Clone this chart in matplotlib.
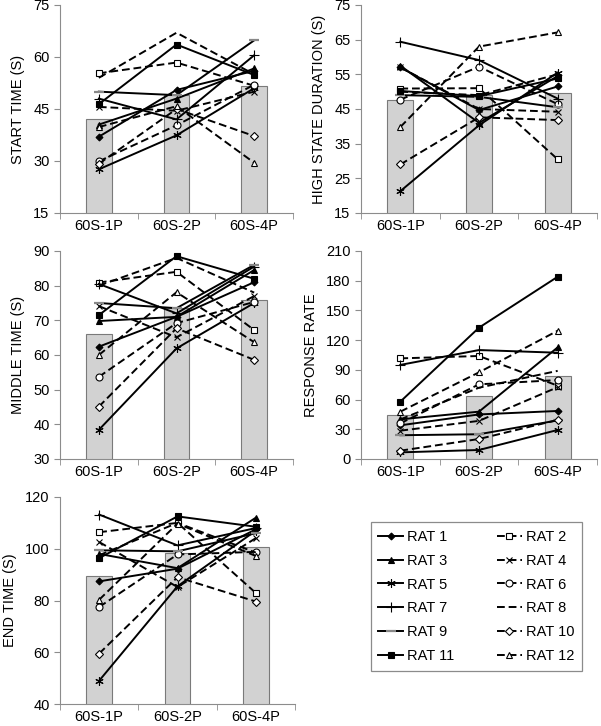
import matplotlib
matplotlib.use("Agg")
import matplotlib.pyplot as plt

plt.rcParams["font.family"] = ["Liberation Sans", "DejaVu Sans"]
plt.rcParams["font.size"] = 10

conditions = ["60S-1P", "60S-2P", "60S-4P"]
rats = ["RAT %d" % i for i in range(1, 13)]

# group means (bars)
start_mean = [42.0, 49.0, 51.5]
high_mean = [47.5, 49.0, 49.5]
middle_mean = [66.0, 73.5, 76.0]
rate_mean = [44.5, 64.0, 84.0]
end_mean = [89.5, 98.5, 100.5]

# individual rats, one row per rat: [1P, 2P, 4P]
start_time = [
    [37.0, 50.5, 56.0], [55.3, 58.4, 51.7], [40.5, 48.0, 56.7], [45.6, 44.5, 50.0],
    [27.6, 37.4, 51.0], [29.9, 40.3, 52.0], [48.0, 42.0, 60.5], [54.0, 67.0, 55.0],
    [50.0, 49.0, 64.8], [29.2, 45.0, 37.2], [46.4, 63.6, 54.8], [39.8, 45.8, 29.5],
]
high_state = [
    [57.0, 44.7, 51.5], [50.9, 51.0, 30.5], [57.5, 41.0, 54.5], [57.0, 45.0, 44.2],
    [21.3, 40.3, 55.5], [47.7, 57.2, 46.4], [64.4, 59.1, 48.0], [50.0, 49.0, 55.0],
    [49.0, 48.5, 45.5], [29.0, 42.6, 41.8], [50.2, 48.7, 53.8], [39.8, 63.0, 67.1],
]
middle_time = [
    [62.4, 71.0, 81.0], [80.9, 84.0, 67.2], [69.8, 71.0, 84.5], [74.1, 65.1, 77.0],
    [38.4, 61.9, 75.0], [53.7, 69.2, 75.3], [80.5, 72.0, 85.5], [80.0, 88.0, 78.0],
    [75.0, 73.5, 86.0], [45.1, 67.7, 58.6], [71.5, 88.5, 82.0], [60.0, 78.1, 63.7],
]
response_rate = [
    [34.0, 45.0, 48.5], [101.6, 104.0, 74.0], [40.0, 47.8, 112.7], [28.6, 38.5, 72.5],
    [6.7, 9.1, 29.3], [36.0, 75.4, 79.7], [95.0, 110.0, 107.3], [40.0, 72.0, 89.0],
    [24.0, 25.0, 39.0], [8.4, 20.2, 39.4], [57.9, 132.6, 184.0], [47.8, 87.5, 129.5],
]
end_time = [
    [87.4, 92.3, 107.5], [106.4, 110.0, 82.9], [98.0, 92.5, 112.0], [102.6, 85.2, 104.1],
    [49.0, 85.5, 107.0], [77.5, 97.8, 98.8], [113.2, 101.3, 108.0], [97.5, 110.0, 98.5],
    [99.4, 99.0, 106.0], [59.5, 89.0, 79.6], [96.4, 112.5, 108.5], [80.3, 109.7, 97.2],
]

# marker, face colour, marker size, dashed
styles = [
    ("D", "black", 3.5, False),
    ("s", "white", 5, True),
    ("^", "black", 5, False),
    ("x", "black", 5, True),
    ((6, 2, 0), "black", 6, False),
    ("o", "white", 5, True),
    ("+", "black", 7, False),
    ("", "black", 5, True),
    ("_", "#888888", 7, False),
    ("D", "white", 4, True),
    ("s", "black", 5, False),
    ("^", "white", 5, True),
]

panels = [
    ("START TIME (S)", start_mean, start_time, (15, 75), range(15, 76, 15),
     [60, 5, 293, 213]),
    ("HIGH STATE DURATION (S)", high_mean, high_state, (15, 75), range(15, 76, 10),
     [361, 5, 597, 213]),
    ("MIDDLE TIME (S)", middle_mean, middle_time, (30, 90), range(30, 91, 10),
     [60, 251, 293, 459]),
    ("RESPONSE RATE", rate_mean, response_rate, (0, 210), range(0, 211, 30),
     [361, 251, 597, 459]),
    ("END TIME (S)", end_mean, end_time, (40, 120), range(40, 121, 20),
     [60, 497, 295, 704]),
]

W, H = 601, 726
fig = plt.figure(figsize=(W / 100, H / 100), dpi=100)
x = list(range(len(conditions)))
spine_col = "#8c8c8c"


def draw_rat(ax, vals, style, label=None):
    marker, face, ms, dashed = style
    is_bar = marker == "_"
    line, = ax.plot(x, vals, color="black", lw=1.4,
                    linestyle=(0, (4, 2)) if dashed else "-",
                    marker=marker if marker else None, ms=ms,
                    markerfacecolor=face, markeredgecolor=face if is_bar else "black",
                    markeredgewidth=1.6 if is_bar else 0.8, label=label, zorder=3)
    return line


handles = []
for title, means, data, ylim, yticks, box in panels:
    l, t, r, b = box
    ax = fig.add_axes([l / W, 1 - b / H, (r - l) / W, (b - t) / H])
    ax.bar(x, means, width=0.33, color="#d2d2d2", edgecolor="#7a7a7a", lw=0.8, zorder=2)
    for i, vals in enumerate(data):
        line = draw_rat(ax, vals, styles[i], rats[i])
        if title == "START TIME (S)":
            handles.append(line)
    ax.set_xlim(-0.5, 2.5)
    ax.set_ylim(*ylim)
    ax.set_yticks(list(yticks))
    ax.set_xticks(x)
    ax.set_xticklabels(conditions)
    ax.set_xticks([-0.5, 0.5, 1.5, 2.5], minor=True)
    ax.tick_params(axis="x", which="major", length=0, pad=4, labelsize=10.5)
    ax.tick_params(axis="x", which="minor", length=4, color=spine_col)
    ax.tick_params(axis="y", length=4, color=spine_col, labelsize=10.5)
    for s in ("top", "right"):
        ax.spines[s].set_visible(False)
    for s in ("left", "bottom"):
        ax.spines[s].set_color(spine_col)
        ax.spines[s].set_linewidth(0.8)
    ax.set_ylabel(title, fontsize=10.5, labelpad=6)

# legend reads row by row: odd rats in the left column, even rats in the right
order = list(range(0, 12, 2)) + list(range(1, 12, 2))
lax = fig.add_axes([371 / W, 1 - 667 / H, 211 / W, 141 / H])
lax.axis("off")
leg = lax.legend(handles=[handles[i] for i in order], loc="center", ncol=2,
                 mode="expand", bbox_to_anchor=(0, 0, 1, 1), numpoints=1,
                 handlelength=1.7, handletextpad=0.3, labelspacing=0.68,
                 borderpad=0.5, columnspacing=1.5, fancybox=False,
                 fontsize=10.5, borderaxespad=0)
leg.get_frame().set_edgecolor("#6e6e6e")
leg.get_frame().set_linewidth(0.9)

fig.savefig("out.png", dpi=100)
